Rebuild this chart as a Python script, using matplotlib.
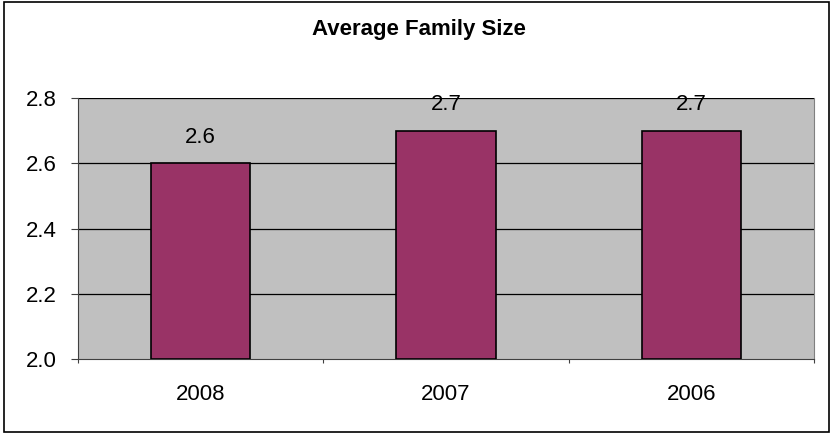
import matplotlib
matplotlib.use("Agg")
import matplotlib.pyplot as plt
from matplotlib.patches import Rectangle

plt.rcParams["font.family"] = ["Liberation Sans", "DejaVu Sans"]

years = ["2008", "2007", "2006"]
family_size = [2.6, 2.7, 2.7]
y_ticks = [2.0, 2.2, 2.4, 2.6, 2.8]

fig = plt.figure(figsize=(8.31, 4.34), dpi=100)
ax = fig.add_axes([0.0939, 0.1728, 0.9795 - 0.0939, 0.7742 - 0.1728])
ax.set_facecolor("#C0C0C0")

# borde exterior del grafico
fig.patches.append(Rectangle((0.005, 0.005), 0.992, 0.99, transform=fig.transFigure,
                             fill=False, edgecolor="black", linewidth=1.2))

x = list(range(len(years)))
ax.bar(x, [v - 2.0 for v in family_size], bottom=2.0, width=0.404,
       color="#993366", edgecolor="black", linewidth=1.2, zorder=3)
for xi, v in zip(x, family_size):
    ax.text(xi, v + 0.062, f"{v:.1f}", ha="center", va="baseline", fontsize=16, zorder=4)

ax.set_xlim(-0.5, len(years) - 0.5)
ax.set_ylim(2.0, 2.8)
ax.set_yticks(y_ticks)
ax.set_yticklabels([f"{t:.1f}" for t in y_ticks], fontsize=16)
for t in y_ticks[1:]:
    ax.axhline(t, color="black", linewidth=0.9, zorder=1)

ax.set_xticks([i - 0.5 for i in range(len(years) + 1)])
ax.set_xticklabels([])
ax.set_xticks(x, minor=True)
ax.set_xticklabels(years, minor=True, fontsize=16)
ax.tick_params(axis="x", which="minor", length=0, pad=18)
ax.tick_params(axis="x", which="major", length=3, color="#404040")
ax.tick_params(axis="y", length=5, color="#404040", pad=10)

ax.spines["top"].set_visible(False)
ax.spines["right"].set_color("#808080")
ax.spines["left"].set_color("#404040")
ax.spines["bottom"].set_color("#404040")

fig.text(0.5036, 0.933, "Average Family Size", ha="center", va="center",
         fontsize=16, fontweight="bold")

fig.savefig("out.png", dpi=100)
